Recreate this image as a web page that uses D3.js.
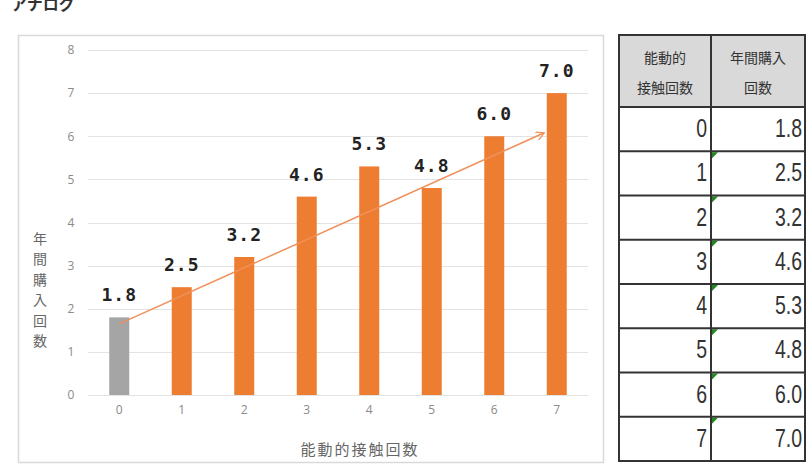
<!DOCTYPE html>
<html><head><meta charset="utf-8">
<script src="https://cdn.jsdelivr.net/npm/d3@7"></script>
<style>
html,body{margin:0;padding:0;background:#fff;}
svg{display:block;}
</style></head>
<body>
<svg id="c" width="810" height="469"></svg>
<script>
// ---- data ----
const title = "アナログ";
const categories = [0, 1, 2, 3, 4, 5, 6, 7];
const values = [1.8, 2.5, 3.2, 4.6, 5.3, 4.8, 6.0, 7.0];
const yTicks = [0, 1, 2, 3, 4, 5, 6, 7, 8];
const xAxisTitle = "能動的接触回数";
const yAxisTitle = "年間購入回数";
const tableHeader1 = ["能動的", "接触回数"];
const tableHeader2 = ["年間購入", "回数"];
const trendStart = [0, 1.65];   // [category position, value]
const trendEnd = [6.8, 6.08];

const svg = d3.select("#c");
const FONT = "'Noto Sans CJK JP','Noto Sans',sans-serif";

// title
svg.append("text").attr("x", 11).attr("y", 10)
  .attr("font-family", FONT).attr("font-weight", "bold").attr("font-size", 16)
  .attr("fill", "#333").text(title);

// chart frame
svg.append("rect").attr("x", 18.5).attr("y", 35.5).attr("width", 585).attr("height", 427)
  .attr("fill", "#fff").attr("stroke", "#d9d9d9").attr("stroke-width", 1.5);

const x = d3.scaleBand().domain(categories).range([88, 588]).paddingInner(0.68).paddingOuter(0.34);
const y = d3.scaleLinear().domain([0, 8]).range([395, 50]);
const xc = d3.scaleLinear().domain([0, 7]).range([x(0) + x.bandwidth() / 2, x(7) + x.bandwidth() / 2]);

// grid
svg.append("g").selectAll("line").data(yTicks).join("line")
  .attr("x1", 88).attr("x2", 588)
  .attr("y1", d => Math.round(y(d)) + 0.5).attr("y2", d => Math.round(y(d)) + 0.5)
  .attr("stroke", "#e3e3e3").attr("stroke-width", 1);

// y axis
const ya = svg.append("g").attr("transform", "translate(71,0)")
  .call(d3.axisLeft(y).tickValues(yTicks).tickSize(0).tickPadding(0).tickFormat(d3.format("d")));
ya.select(".domain").remove();
ya.selectAll("text").attr("text-anchor", "middle").attr("font-family", "'Open Sans',sans-serif").attr("font-size", 12).attr("fill", "#8a8a8a");

// x axis
const xa = svg.append("g").attr("transform", "translate(0,405)")
  .call(d3.axisBottom(x).tickSize(0).tickPadding(0));
xa.select(".domain").remove();
xa.selectAll("text").attr("font-family", "'Open Sans',sans-serif").attr("font-size", 12).attr("fill", "#8a8a8a");

// bars
svg.append("g").selectAll("rect").data(categories).join("rect")
  .attr("x", d => x(d)).attr("width", x.bandwidth())
  .attr("y", (d, i) => y(values[i])).attr("height", (d, i) => y(0) - y(values[i]))
  .attr("fill", (d, i) => i === 0 ? "#a5a5a5" : "#ed7d31");

// value labels
svg.append("g").selectAll("text").data(categories).join("text")
  .attr("x", d => x(d) + x.bandwidth() / 2)
  .attr("y", (d, i) => y(values[i]) - 16)
  .attr("text-anchor", "middle")
  .attr("font-family", "'DejaVu Sans Mono',monospace").attr("font-weight", "bold")
  .attr("font-size", 18).attr("letter-spacing", 1).attr("fill", "#222")
  .text((d, i) => values[i].toFixed(1));

// trend arrow
const defs = svg.append("defs");
defs.append("marker").attr("id", "ah").attr("viewBox", "0 0 10 10")
  .attr("refX", 9).attr("refY", 5).attr("markerWidth", 9).attr("markerHeight", 9)
  .attr("markerUnits", "userSpaceOnUse").attr("orient", "auto")
  .append("path").attr("d", "M0,0 L9,5 L0,10").attr("fill", "none")
  .attr("stroke", "#f0905a").attr("stroke-width", 1.4);
svg.append("line")
  .attr("x1", xc(trendStart[0])).attr("y1", y(trendStart[1]))
  .attr("x2", xc(trendEnd[0])).attr("y2", y(trendEnd[1]))
  .attr("stroke", "#f0905a").attr("stroke-width", 1.5).attr("marker-end", "url(#ah)");

// axis titles
svg.append("text").attr("x", 360).attr("y", 455).attr("text-anchor", "middle")
  .attr("font-family", FONT).attr("font-size", 15).attr("letter-spacing", 2).attr("fill", "#666")
  .text(xAxisTitle);
svg.append("g").selectAll("text").data(Array.from(yAxisTitle)).join("text")
  .attr("x", 40).attr("y", (d, i) => 244 + i * 20.4)
  .attr("text-anchor", "middle")
  .attr("font-family", FONT).attr("font-size", 14).attr("fill", "#666")
  .text(d => d);

// ---- table ----
const tx0 = 619, tx1 = 711, tx2 = 805;
const rowY = d3.scaleLinear().domain([0, categories.length]).range([107, 461]);
const tg = svg.append("g");
tg.append("rect").attr("x", tx0).attr("y", 35).attr("width", tx2 - tx0).attr("height", 107 - 35)
  .attr("fill", "#d9d9d9");
// header text
[[tableHeader1, (tx0 + tx1) / 2], [tableHeader2, (tx1 + tx2) / 2]].forEach(([lines, cx]) => {
  tg.append("g").selectAll("text").data(lines).join("text")
    .attr("x", cx).attr("y", (d, i) => 63 + i * 30)
    .attr("text-anchor", "middle")
    .attr("font-family", FONT).attr("font-size", 14).attr("fill", "#333")
    .text(d => d);
});
// green indicators
tg.append("g").selectAll("path").data(categories.slice(1)).join("path")
  .attr("d", d => {
    const yy = rowY(d) + 1;
    return `M${tx1 + 1},${yy} L${tx1 + 7},${yy} L${tx1 + 1},${yy + 6} Z`;
  })
  .attr("fill", "#1e8a1e");
// cell text (narrow digits)
const NARROW = "'Liberation Sans Narrow','Liberation Sans',sans-serif";
tg.append("g").selectAll("text").data(categories).join("text")
  .attr("transform", (d, i) => `translate(${tx1 - 4},${rowY(i) + 30}) scale(0.78,1)`)
  .attr("text-anchor", "end")
  .attr("font-family", NARROW).attr("font-size", 25)
  .attr("fill", "#333").text(d => d);
tg.append("g").selectAll("text").data(values).join("text")
  .attr("transform", (d, i) => `translate(${tx2 - 3},${rowY(i) + 30}) scale(0.78,1)`)
  .attr("text-anchor", "end")
  .attr("font-family", NARROW).attr("font-size", 25)
  .attr("fill", "#333").text(d => d.toFixed(1));
// grid lines
const hl = [35].concat(d3.range(categories.length + 1).map(i => rowY(i)));
tg.append("g").selectAll("line").data(hl).join("line")
  .attr("x1", tx0).attr("x2", tx2).attr("y1", d => d).attr("y2", d => d)
  .attr("stroke", "#333").attr("stroke-width", 2);
tg.append("g").selectAll("line").data([tx0, tx1, tx2]).join("line")
  .attr("x1", d => d).attr("x2", d => d).attr("y1", 34).attr("y2", 462)
  .attr("stroke", "#333").attr("stroke-width", 2);
</script>
</body></html>
